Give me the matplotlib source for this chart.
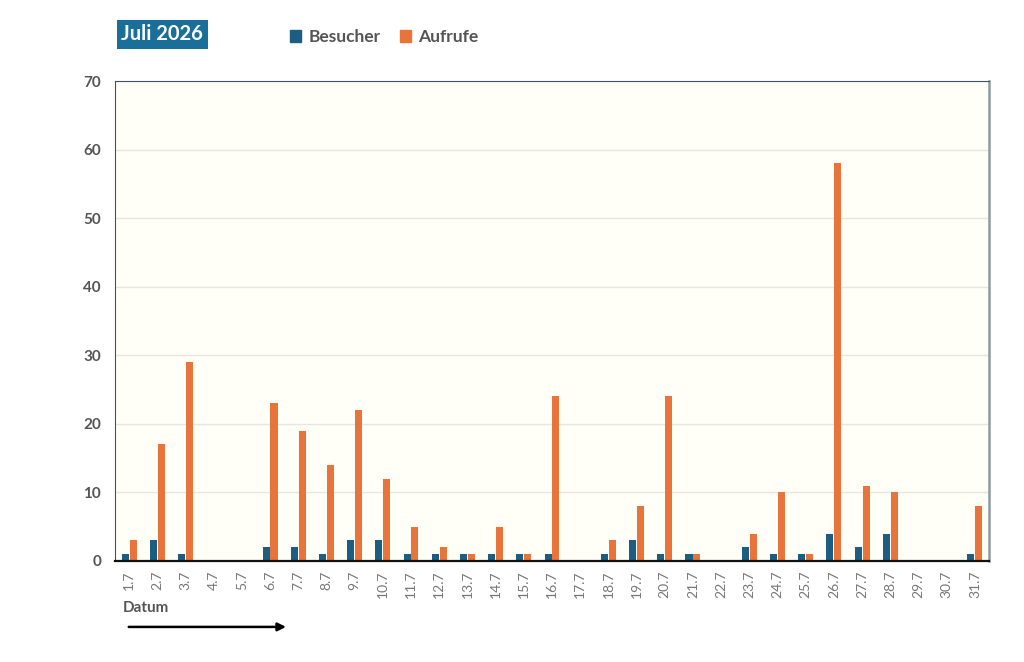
import matplotlib.pyplot as plt
import numpy as np
from matplotlib.patches import Patch

days = [f"{d}.7" for d in range(1, 32)]
besucher = [1, 3, 1, 0, 0, 2, 2, 1, 3, 3, 1, 1, 1, 1, 1, 1, 0, 1, 3, 1, 1, 0, 2, 1, 1, 4, 2, 4, 0, 0, 1]
aufrufe = [3, 17, 29, 0, 0, 23, 19, 14, 22, 12, 5, 2, 1, 5, 1, 24, 0, 3, 8, 24, 1, 0, 4, 10, 1, 58, 11, 10, 0, 0, 8]
y_ticks = [0, 10, 20, 30, 40, 50, 60, 70]

BLUE = '#1b5e82'
ORANGE = '#e8743b'
GREY = '#555555'

plt.rcParams['font.family'] = ['Lato', 'DejaVu Sans']

fig = plt.figure(figsize=(10.24, 6.62), dpi=100)
ax = fig.add_axes([0.1123, 0.1526, 0.8535, 0.725])
ax.set_facecolor('#fffff7')

x = np.arange(len(days))
w = 0.25
ax.bar(x - 0.14, besucher, width=w, color=BLUE, zorder=3)
ax.bar(x + 0.14, aufrufe, width=w, color=ORANGE, zorder=3)

ax.set_xlim(-0.5, len(days) - 0.5)
ax.set_ylim(0, 70)
ax.set_yticks(y_ticks)
ax.set_yticklabels([str(v) for v in y_ticks], fontsize=11, fontweight='bold', color=GREY)
ax.set_xticks(x)
ax.set_xticklabels(days, rotation=90, fontsize=10, color='#777777')
ax.tick_params(axis='both', length=0, pad=10)
ax.tick_params(axis='x', pad=7)
ax.grid(axis='y', color='#e6e6e0', linewidth=1, zorder=0)

ax.spines['left'].set_color('#3d5566')
ax.spines['top'].set_color('#3d5566')
ax.spines['right'].set_color('#8f9aa0')
ax.spines['right'].set_linewidth(1.8)
ax.spines['bottom'].set_color('#111111')
ax.spines['bottom'].set_linewidth(1.6)
ax.spines['bottom'].set_zorder(4)

fig.text(0.1186, 0.948, 'Juli 2026', fontsize=14.5, fontweight='bold', color='white',
         va='center', ha='left',
         bbox=dict(boxstyle='square,pad=0.24', facecolor='#1a6e9a', edgecolor='none'))

handles = [Patch(color=BLUE, label='Besucher'), Patch(color=ORANGE, label='Aufrufe')]
fig.legend(handles=handles, loc='center left', bbox_to_anchor=(0.268, 0.944), ncol=2,
           frameon=False, handlelength=0.65, handleheight=0.65, handletextpad=0.4,
           columnspacing=1.1, prop={'family': ['Lato', 'DejaVu Sans'], 'weight': 'bold', 'size': 12.5},
           labelcolor=GREY)

fig.text(0.12, 0.082, 'Datum', fontsize=11, fontweight='bold', color=GREY, va='center')
ax.annotate('', xy=(0.282, 0.053), xytext=(0.123, 0.053), xycoords='figure fraction',
            arrowprops=dict(arrowstyle='-|>', color='black', lw=1.8, mutation_scale=12))

fig.savefig('out.png', dpi=100, facecolor='white')
